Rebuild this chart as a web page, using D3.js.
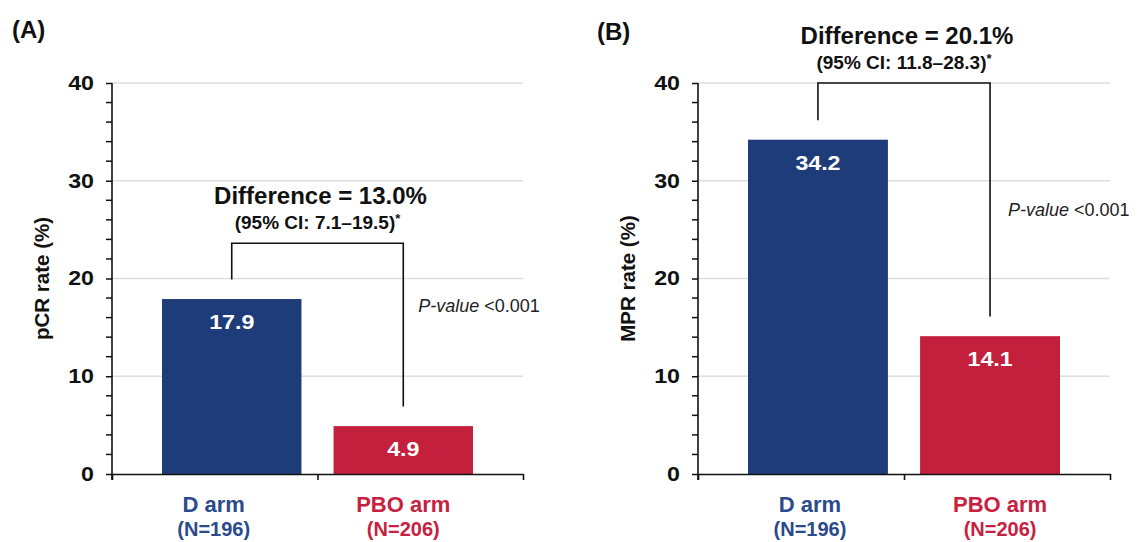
<!DOCTYPE html>
<html>
<head>
<meta charset="utf-8">
<script src="https://cdn.jsdelivr.net/npm/d3@7/dist/d3.min.js"></script>
<style>
  html, body { margin: 0; padding: 0; background: #fff; }
  svg { display: block; font-family: "Liberation Sans", Arial, sans-serif; }
</style>
</head>
<body>
<svg id="chart" width="1140" height="542"></svg>
<script>
// Treatment arms and their sample sizes
const categories = ["D arm", "PBO arm"];
const sampleSizes = ["(N=196)", "(N=206)"];

// Response rates (%) per arm
const pcrRates = [17.9, 4.9];
const mprRates = [34.2, 14.1];

// Y axis ticks
const yMajorTicks = [0, 10, 20, 30, 40];
const yMinorTicks = [2, 4, 6, 8, 12, 14, 16, 18, 22, 24, 26, 28, 32, 34, 36, 38];

// Comparison annotations per panel
const panelLetters = ["(A)", "(B)"];
const axisTitles = ["pCR rate (%)", "MPR rate (%)"];
const differenceLabels = ["Difference = 13.0%", "Difference = 20.1%"];
const ciLabels = ["(95% CI: 7.1\u201319.5)", "(95% CI: 11.8\u201328.3)"];
const pValueLabels = ["<0.001", "<0.001"];
const bracketTops = [23.6, 40];

const armColors = ["#1f3c7a", "#c41f3d"];
const armTextColors = ["#2a4a8c", "#c8213f"];

// Layout for the two panels
const panels = [
  { values: pcrRates, left: 112, right: 523, letterX: 12, letterY: 38,
    titleX: 49, labelShift: [-18, 0], pLevel: 16.6, pGap: 15 },
  { values: mprRates, left: 698, right: 1110, letterX: 597, letterY: 40,
    titleX: 635, labelShift: [-8, 10], pLevel: 26.4, pGap: 18 }
];
const plotTop = 83, plotBottom = 474;

const svg = d3.select("#chart");
const y = d3.scaleLinear().domain([0, 40]).range([plotBottom, plotTop]);

panels.forEach((p, i) => {
  const g = svg.append("g");

  // Panel letter
  g.append("text")
    .attr("x", p.letterX).attr("y", p.letterY)
    .attr("font-size", 24).attr("font-weight", "bold").attr("fill", "#111")
    .text(panelLetters[i]);

  // Horizontal gridlines
  g.selectAll("line.grid").data(yMajorTicks.filter(d => d > 0)).join("line")
    .attr("class", "grid")
    .attr("x1", p.left).attr("x2", p.right)
    .attr("y1", d => y(d)).attr("y2", d => y(d))
    .attr("stroke", "#dedede").attr("stroke-width", 1.5);

  // Bars
  const xBand = d3.scaleBand().domain(categories)
    .range([p.left + 50, p.right - 50]).paddingInner(0.187).paddingOuter(0);

  g.selectAll("rect.bar").data(p.values).join("rect")
    .attr("class", "bar")
    .attr("x", (d, j) => xBand(categories[j]))
    .attr("width", xBand.bandwidth())
    .attr("y", d => y(d))
    .attr("height", d => y(0) - y(d))
    .attr("fill", (d, j) => armColors[j]);

  // Value labels inside bars
  g.selectAll("text.val").data(p.values).join("text")
    .attr("class", "val")
    .attr("transform", (d, j) => `translate(${xBand(categories[j]) + xBand.bandwidth() / 2},${y(d) + 30}) scale(1.16,1)`)
    .attr("text-anchor", "middle")
    .attr("font-size", 20).attr("font-weight", "bold").attr("fill", "#fff")
    .text(d => d.toFixed(1));

  // Y axis with minor ticks
  const yAxis = g.append("g").attr("transform", `translate(${p.left},0)`)
    .call(d3.axisLeft(y).tickValues(yMajorTicks).tickSize(6).tickSizeOuter(0).tickPadding(10));
  yAxis.select(".domain").attr("stroke", "#111").attr("stroke-width", 1.6)
    .attr("d", `M0,${plotTop}V${plotBottom + 6}`);
  yAxis.selectAll(".tick line").attr("stroke", "#111").attr("stroke-width", 1.5);
  yAxis.selectAll(".tick text")
    .attr("font-family", "Liberation Sans, Arial, sans-serif")
    .attr("font-size", 20).attr("font-weight", "bold").attr("fill", "#111")
    .attr("x", -18 / 1.16).attr("transform", "scale(1.16,1)");
  g.selectAll("line.minor").data(yMinorTicks).join("line")
    .attr("class", "minor")
    .attr("x1", p.left - 6).attr("x2", p.left)
    .attr("y1", d => y(d)).attr("y2", d => y(d))
    .attr("stroke", "#111").attr("stroke-width", 1.5);

  // X axis: baseline with ticks at the ends and between the arms
  const xLine = d3.scaleLinear().domain([0, 2]).range([p.left, p.right]);
  const xAxis = g.append("g").attr("transform", `translate(0,${plotBottom})`)
    .call(d3.axisBottom(xLine).tickValues([0, 1, 2]).tickSize(6).tickSizeOuter(0).tickFormat(""));
  xAxis.select(".domain").attr("stroke", "#111").attr("stroke-width", 1.6);
  xAxis.selectAll(".tick line").attr("stroke", "#111").attr("stroke-width", 1.6);

  // Y axis title
  g.append("text")
    .attr("transform", `translate(${p.titleX},${(plotTop + plotBottom) / 2}) rotate(-90)`)
    .attr("text-anchor", "middle")
    .attr("font-size", 20.5).attr("font-weight", "bold").attr("fill", "#111")
    .text(axisTitles[i]);

  // Category labels
  categories.forEach((c, j) => {
    const cx = xBand(c) + xBand.bandwidth() / 2 + p.labelShift[j];
    g.append("text")
      .attr("x", cx).attr("y", plotBottom + 38)
      .attr("text-anchor", "middle")
      .attr("font-size", 22).attr("font-weight", "bold").attr("fill", armTextColors[j])
      .text(c);
    g.append("text")
      .attr("x", cx).attr("y", plotBottom + 62)
      .attr("text-anchor", "middle")
      .attr("font-size", 20).attr("font-weight", "bold").attr("fill", armTextColors[j])
      .text(sampleSizes[j]);
  });

  // Comparison bracket from each bar up to a shared level
  const x1 = xBand(categories[0]) + xBand.bandwidth() / 2;
  const x2 = xBand(categories[1]) + xBand.bandwidth() / 2;
  const yt = y(bracketTops[i]);
  g.append("path")
    .attr("d", `M${x1},${y(p.values[0] + 2)}V${yt}H${x2}V${y(p.values[1] + 2)}`)
    .attr("fill", "none").attr("stroke", "#111").attr("stroke-width", 1.6);

  const mid = (x1 + x2) / 2;
  g.append("text")
    .attr("x", mid + 3).attr("y", yt - 39)
    .attr("text-anchor", "middle")
    .attr("font-size", 24).attr("font-weight", "bold").attr("fill", "#111")
    .text(differenceLabels[i]);
  const ci = g.append("text")
    .attr("x", mid).attr("y", yt - 14)
    .attr("text-anchor", "middle")
    .attr("font-size", 19).attr("font-weight", "bold").attr("fill", "#111");
  ci.append("tspan").text(ciLabels[i]);
  ci.append("tspan").attr("font-size", 13).attr("dy", -6).text("*");

  // P-value note
  const pv = g.append("text")
    .attr("x", x2 + p.pGap).attr("y", y(p.pLevel))
    .attr("font-size", 18).attr("fill", "#222");
  pv.append("tspan").attr("font-style", "italic").text("P-value");
  pv.append("tspan").text(" " + pValueLabels[i]);
});
</script>
</body>
</html>
